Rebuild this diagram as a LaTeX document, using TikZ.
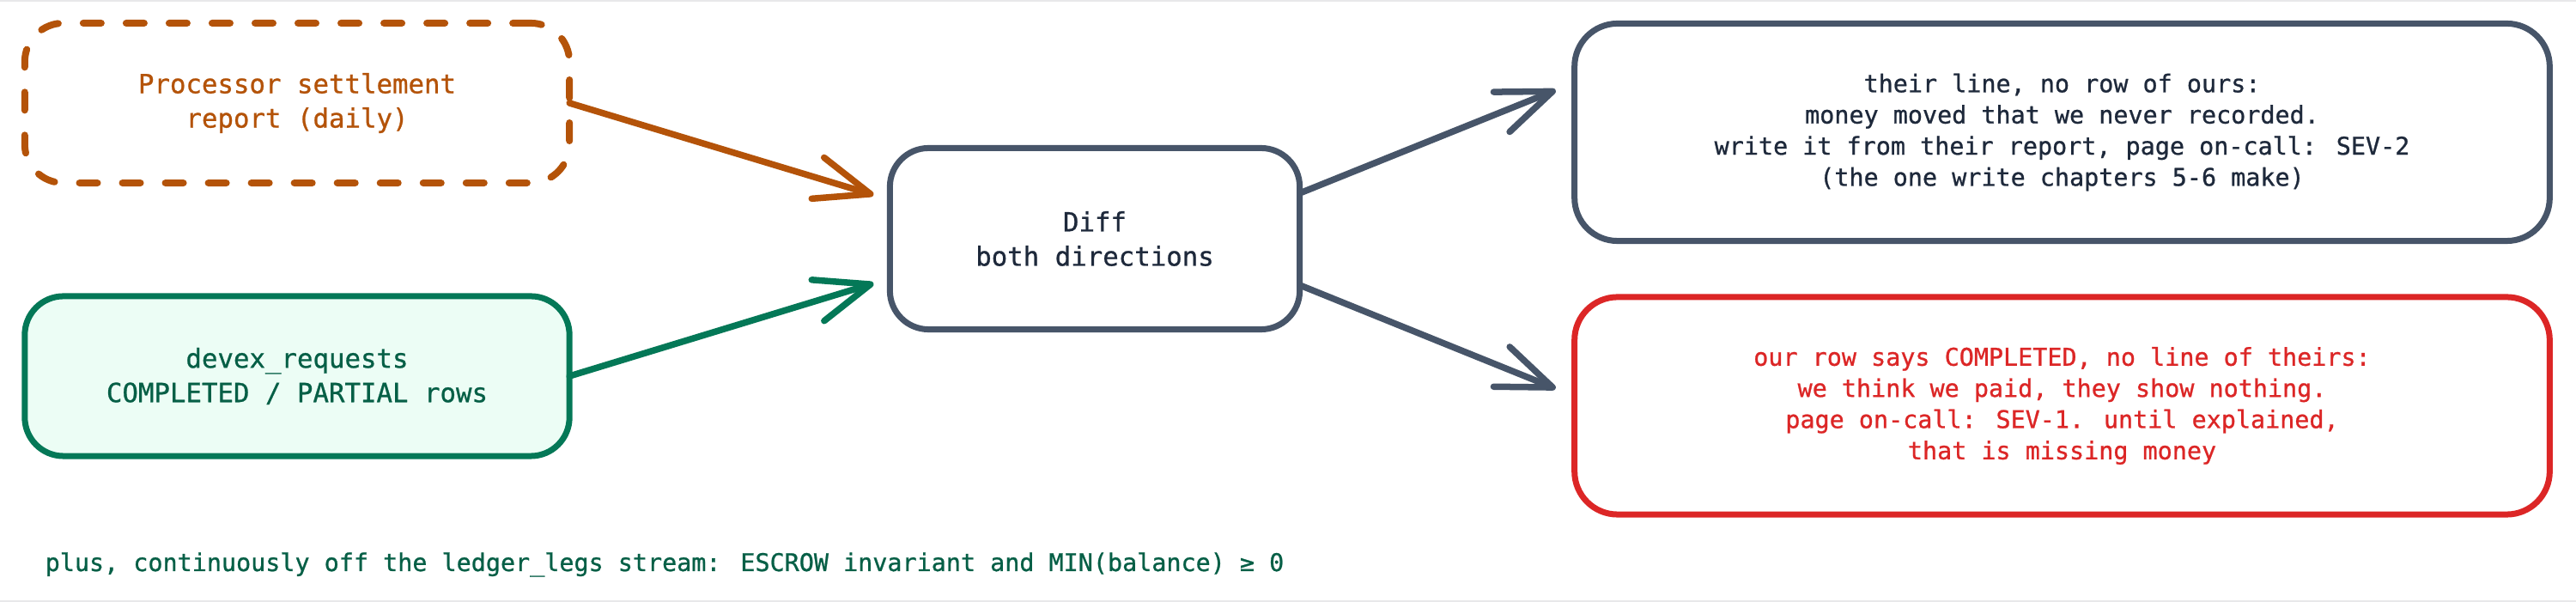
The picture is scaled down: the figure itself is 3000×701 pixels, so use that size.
\documentclass[tikz,border=0pt]{standalone}
\usepackage{fontspec}
\newfontfamily\monofont[FakeBold=0.8]{DejaVu Sans Mono}
\usetikzlibrary{arrows.meta,calc}
\definecolor{slate}{HTML}{475569}
\definecolor{ink}{HTML}{1E293B}
\definecolor{amber}{HTML}{B45309}
\definecolor{emer}{HTML}{047857}
\definecolor{emerdark}{HTML}{065F46}
\definecolor{emerfill}{HTML}{ECFDF5}
\definecolor{alert}{HTML}{DC2626}
\definecolor{rulegray}{HTML}{E8E8EA}
\begin{document}
\begin{tikzpicture}[x=0.01cm,y=-0.01cm,
  box/.style={draw, rectangle, rounded corners=0.45cm, line width=0.07cm, outer sep=0pt, inner sep=0pt, align=center, fill=white},
  bigbox/.style={box, rounded corners=0.5cm, minimum width=11.35cm, minimum height=2.53cm},
  sidebox/.style={box, minimum width=6.34cm, minimum height=1.86cm},
  bigtext/.style={font=\monofont\fontsize{8.74pt}{11.38pt}\selectfont},
  smalltext/.style={font=\monofont\fontsize{8.08pt}{10.33pt}\selectfont},
  link/.style={line width=0.075cm, line cap=round, -{Straight Barb[length=0.64cm,width=0.5cm,round]}},
]
\useasboundingbox (0,0) rectangle (3000,701);
\fill[white] (0,0) rectangle (3000,701);
\draw[rulegray, line width=0.02cm] (0,1) -- (3000,1);
\draw[rulegray, line width=0.02cm] (0,700) -- (3000,700);

\node[sidebox, bigtext, draw=amber, text=amber, line width=0.08cm, dash pattern=on 0.21cm off 0.29cm, line cap=round] (proc) at (346,120) {Processor settlement\\report (daily)};
\node[sidebox, bigtext, draw=emer, fill=emerfill, text=emerdark] (devex) at (346,438) {devex\_requests\\COMPLETED / PARTIAL rows};
\node[box, bigtext, draw=slate, text=ink, minimum width=4.77cm, minimum height=2.11cm] (diff) at (1275,278) {Diff\\both directions};
\node[bigbox, smalltext, draw=slate, text=ink] (fix) at (2401.5,154) {their line, no row of ours:\\money moved that we never recorded.\\write it from their report, page on-call: SEV-2\\(the one write chapters 5-6 make)};
\node[bigbox, smalltext, draw=alert, text=alert] (miss) at (2401.5,472.5) {our row says COMPLETED, no line of theirs:\\we think we paid, they show nothing.\\page on-call: SEV-1. until explained,\\that is missing money};

\node[smalltext, text=emerdark, anchor=base west, inner sep=0pt] (note) at (52,665) {plus, continuously off the ledger\_legs stream: ESCROW invariant and MIN(balance) ≥ 0};

\draw[link, amber] (proc.east) -- ($(diff.west)+(-19,-51)$);
\draw[link, emer] (devex.east) -- ($(diff.west)+(-19,52)$);
\draw[link, slate] ($(diff.east)+(0,-53)$) -- ($(fix.west)+(-22,-49)$);
\draw[link, slate] ($(diff.east)+(0,54)$) -- ($(miss.west)+(-22,-20)$);
\end{tikzpicture}
\end{document}
